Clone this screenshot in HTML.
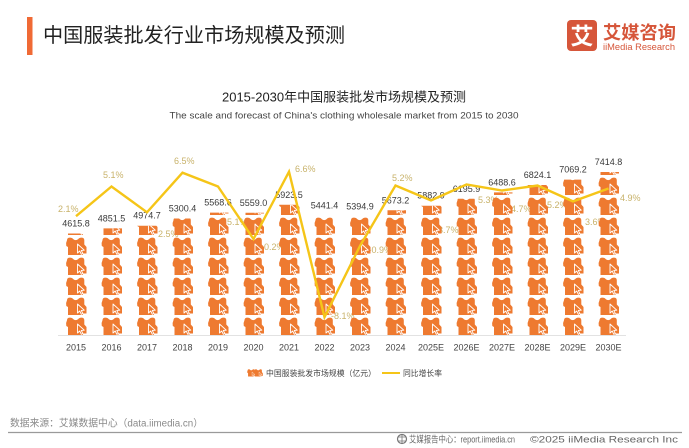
<!DOCTYPE html>
<html><head><meta charset="utf-8"><style>
html,body{margin:0;padding:0;background:#fff;}
svg{display:block;font-family:"Liberation Sans","Noto Sans CJK SC",sans-serif;}
</style></head><body>
<svg width="689" height="448" viewBox="0 0 689 448" xmlns="http://www.w3.org/2000/svg">
<defs>
<g id="ic">
<path d="M1.5,3.2 Q1.5,0.6 4.5,0.6 Q6.6,0.6 7.6,2 Q10.2,4.2 12.8,2 Q13.8,0.6 15.8,0.6 Q18.8,0.6 18.8,3.2 L18.8,7.5 L21,10 L21,16.5 L17.5,16.5 L17.5,18 L2.5,18 L2.5,10 L0.8,9 L0.6,6 Z" fill="#EE7A30"/>
<path d="M12,7 L12,16 L14.2,14 L15.8,17.3 L17.3,16.6 L15.8,13.4 L18.8,13.2 Z" fill="#EE7A30" stroke="#fff" stroke-width="0.9" stroke-linejoin="round"/>
</g>
<g id="col">
<use href="#ic" y="317"/><use href="#ic" y="297"/><use href="#ic" y="277"/><use href="#ic" y="257"/><use href="#ic" y="237"/><use href="#ic" y="217"/><use href="#ic" y="197"/><use href="#ic" y="177"/><use href="#ic" y="157"/>
</g>
<clipPath id="c0"><rect x="0" y="233.5" width="689" height="101.5"/></clipPath>
<clipPath id="c1"><rect x="0" y="228.4" width="689" height="106.6"/></clipPath>
<clipPath id="c2"><rect x="0" y="225.7" width="689" height="109.3"/></clipPath>
<clipPath id="c3"><rect x="0" y="218.5" width="689" height="116.5"/></clipPath>
<clipPath id="c4"><rect x="0" y="212.6" width="689" height="122.4"/></clipPath>
<clipPath id="c5"><rect x="0" y="212.8" width="689" height="122.2"/></clipPath>
<clipPath id="c6"><rect x="0" y="204.8" width="689" height="130.2"/></clipPath>
<clipPath id="c7"><rect x="0" y="215.4" width="689" height="119.6"/></clipPath>
<clipPath id="c8"><rect x="0" y="216.4" width="689" height="118.6"/></clipPath>
<clipPath id="c9"><rect x="0" y="210.3" width="689" height="124.7"/></clipPath>
<clipPath id="c10"><rect x="0" y="205.7" width="689" height="129.3"/></clipPath>
<clipPath id="c11"><rect x="0" y="198.8" width="689" height="136.2"/></clipPath>
<clipPath id="c12"><rect x="0" y="192.4" width="689" height="142.6"/></clipPath>
<clipPath id="c13"><rect x="0" y="185.0" width="689" height="150"/></clipPath>
<clipPath id="c14"><rect x="0" y="179.6" width="689" height="155.4"/></clipPath>
<clipPath id="c15"><rect x="0" y="172.0" width="689" height="163"/></clipPath>
</defs>

<!-- header -->
<rect x="27" y="17" width="5.5" height="38" fill="#F06A35"/>
<text x="43" y="42" font-size="20" fill="#222" textLength="302" lengthAdjust="spacingAndGlyphs">中国服装批发行业市场规模及预测</text>

<!-- logo -->
<rect x="567" y="20" width="30" height="31" rx="4" fill="#D6563A"/>
<text x="582" y="44" font-size="23" font-weight="bold" fill="#fff" text-anchor="middle">艾</text>
<text x="603" y="39" font-size="18" font-weight="bold" fill="#D6563A" textLength="73" lengthAdjust="spacingAndGlyphs">艾媒咨询</text>
<text x="603" y="50" font-size="9" fill="#D6563A" textLength="72" lengthAdjust="spacingAndGlyphs">iiMedia Research</text>

<!-- chart titles -->
<text x="344" y="101.5" font-size="13" fill="#222" text-anchor="middle" textLength="244" lengthAdjust="spacingAndGlyphs">2015-2030年中国服装批发市场规模及预测</text>
<text x="344" y="118.5" font-size="9.5" fill="#444" text-anchor="middle" textLength="349" lengthAdjust="spacingAndGlyphs">The scale and forecast of China's clothing wholesale market from 2015 to 2030</text>

<!-- axis -->
<line x1="58" y1="335.5" x2="626" y2="335.5" stroke="#e2e2e2" stroke-width="1"/>

<!-- rate labels (behind bars) -->
<g font-size="9" fill="#C8B26A">
<text x="58" y="212">2.1%</text>
<text x="103" y="178">5.1%</text>
<text x="158" y="237">2.5%</text>
<text x="174" y="164">6.5%</text>
<text x="227" y="225">5.1%</text>
<text x="261" y="250">-0.2%</text>
<text x="295" y="172">6.6%</text>
<text x="331" y="319">-8.1%</text>
<text x="368.5" y="253">-0.9%</text>
<text x="392" y="181">5.2%</text>
<text x="438" y="233">3.7%</text>
<text x="478" y="203">5.3%</text>
<text x="511" y="212">4.7%</text>
<text x="547" y="208">5.2%</text>
<text x="585" y="225">3.6%</text>
<text x="620" y="201">4.9%</text>
</g>

<!-- bars -->
<g clip-path="url(#c0)"><use href="#col" x="65.5"/></g>
<g clip-path="url(#c1)"><use href="#col" x="101"/></g>
<g clip-path="url(#c2)"><use href="#col" x="136.5"/></g>
<g clip-path="url(#c3)"><use href="#col" x="172"/></g>
<g clip-path="url(#c4)"><use href="#col" x="207.5"/></g>
<g clip-path="url(#c5)"><use href="#col" x="243"/></g>
<g clip-path="url(#c6)"><use href="#col" x="278.5"/></g>
<g clip-path="url(#c7)"><use href="#col" x="314"/></g>
<g clip-path="url(#c8)"><use href="#col" x="349.5"/></g>
<g clip-path="url(#c9)"><use href="#col" x="385"/></g>
<g clip-path="url(#c10)"><use href="#col" x="420.5"/></g>
<g clip-path="url(#c11)"><use href="#col" x="456"/></g>
<g clip-path="url(#c12)"><use href="#col" x="491.5"/></g>
<g clip-path="url(#c13)"><use href="#col" x="527"/></g>
<g clip-path="url(#c14)"><use href="#col" x="562.5"/></g>
<g clip-path="url(#c15)"><use href="#col" x="598"/></g>

<!-- value labels -->
<g font-size="9" fill="#3a3a3a" text-anchor="middle">
<text x="76" y="226.5">4615.8</text>
<text x="111.5" y="221.4">4851.5</text>
<text x="147" y="218.7">4974.7</text>
<text x="182.5" y="211.5">5300.4</text>
<text x="218" y="205.6">5568.6</text>
<text x="253.5" y="205.8">5559.0</text>
<text x="289" y="197.8">5923.5</text>
<text x="324.5" y="208.4">5441.4</text>
<text x="360" y="209.4">5394.9</text>
<text x="395.5" y="203.3">5673.2</text>
<text x="431" y="198.7">5882.9</text>
<text x="466.5" y="191.8">6195.9</text>
<text x="502" y="185.4">6488.6</text>
<text x="537.5" y="178">6824.1</text>
<text x="573" y="172.6">7069.2</text>
<text x="608.5" y="165">7414.8</text>
</g>

<!-- line -->
<polyline fill="none" stroke="#F5C518" stroke-width="2.4" stroke-linejoin="miter" points="76,216.2 111.5,186.5 147,212.3 182.5,172.7 218,186.5 253.5,239 289,171.7 324.5,317.2 360,245.9 395.5,185.5 431,200.4 466.5,184.5 502,190.5 537.5,185.5 573,201.4 608.5,188.5"/>

<!-- x labels -->
<g font-size="9" fill="#444" text-anchor="middle">
<text x="76" y="350.5">2015</text>
<text x="111.5" y="350.5">2016</text>
<text x="147" y="350.5">2017</text>
<text x="182.5" y="350.5">2018</text>
<text x="218" y="350.5">2019</text>
<text x="253.5" y="350.5">2020</text>
<text x="289" y="350.5">2021</text>
<text x="324.5" y="350.5">2022</text>
<text x="360" y="350.5">2023</text>
<text x="395.5" y="350.5">2024</text>
<text x="431" y="350.5">2025E</text>
<text x="466.5" y="350.5">2026E</text>
<text x="502" y="350.5">2027E</text>
<text x="537.5" y="350.5">2028E</text>
<text x="573" y="350.5">2029E</text>
<text x="608.5" y="350.5">2030E</text>
</g>

<!-- legend -->
<g transform="translate(247,369) scale(0.42)"><use href="#ic"/></g>
<g transform="translate(254,369) scale(0.42)"><use href="#ic"/></g>
<text x="266" y="376" font-size="8" fill="#444" textLength="110" lengthAdjust="spacingAndGlyphs">中国服装批发市场规模（亿元）</text>
<line x1="382" y1="373" x2="400" y2="373" stroke="#F5C518" stroke-width="2"/>
<text x="403" y="376" font-size="8" fill="#444" textLength="39" lengthAdjust="spacingAndGlyphs">同比增长率</text>

<!-- footer -->
<text x="10" y="426.5" font-size="10" fill="#8a8a8a" textLength="193" lengthAdjust="spacingAndGlyphs">数据来源：艾媒数据中心（data.iimedia.cn）</text>
<line x1="8" y1="432.5" x2="682" y2="432.5" stroke="#9a9a9a" stroke-width="1.2"/>
<circle cx="402" cy="439" r="4.5" fill="none" stroke="#777" stroke-width="1.2"/>
<path d="M398,437 L406,437 M398,441 L406,441 M402,434.5 L402,443.5" stroke="#777" stroke-width="0.8"/>
<text x="409" y="442.5" font-size="9" fill="#666" textLength="106" lengthAdjust="spacingAndGlyphs">艾媒报告中心：report.iimedia.cn</text>
<text x="530" y="442.5" font-size="9" fill="#666" textLength="148" lengthAdjust="spacingAndGlyphs">©2025  iiMedia Research  Inc</text>
</svg>
</body></html>
